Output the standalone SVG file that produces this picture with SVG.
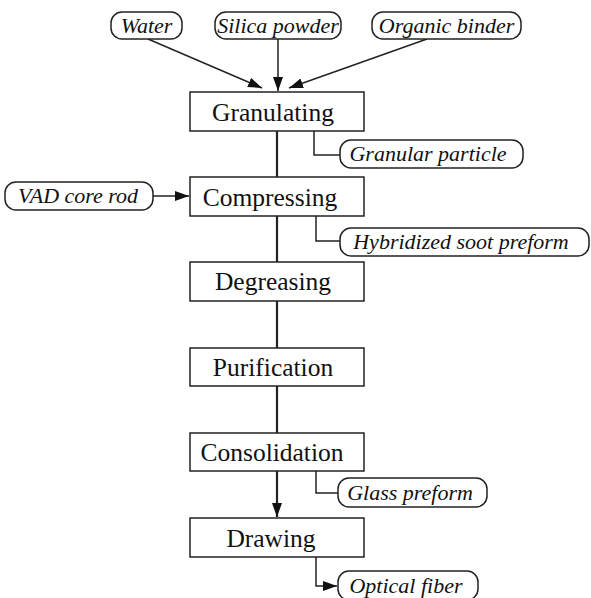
<svg xmlns="http://www.w3.org/2000/svg" width="591" height="598" viewBox="0 0 591 598">
<defs>
<style>
.box{fill:#fff;stroke:#222;stroke-width:1.5}
.pill{fill:#fff;stroke:#222;stroke-width:1.5}
.bt{font-family:"Liberation Serif","Times New Roman",serif;font-size:25.5px;fill:#111;text-anchor:middle}
.pt{font-family:"Liberation Serif","Times New Roman",serif;font-size:22px;font-style:italic;fill:#111;text-anchor:middle}
.ln{fill:none;stroke:#222;stroke-width:1.5}
.main{fill:none;stroke:#222;stroke-width:2.2}
</style>
<marker id="ah" markerUnits="userSpaceOnUse" markerWidth="16" markerHeight="12" refX="14" refY="5" orient="auto">
<path d="M0,0 L14,5 L0,10 Z" fill="#111"/>
</marker>
</defs>
<rect width="591" height="598" fill="#fff"/>
<g id="connectors">
<line class="ln" x1="148" y1="39" x2="262" y2="88" marker-end="url(#ah)"/>
<line class="ln" x1="278" y1="39" x2="278" y2="91" marker-end="url(#ah)"/>
<line class="ln" x1="427" y1="39" x2="289" y2="88" marker-end="url(#ah)"/>
<line class="main" x1="277" y1="131" x2="277" y2="177"/>
<line class="main" x1="277" y1="216" x2="277" y2="262"/>
<line class="main" x1="277" y1="301" x2="277" y2="348"/>
<line class="main" x1="277" y1="386" x2="277" y2="433"/>
<line class="main" x1="277" y1="471" x2="277" y2="517" marker-end="url(#ah)"/>
<line class="ln" x1="153" y1="196" x2="189" y2="196" marker-end="url(#ah)"/>
<polyline class="ln" points="314,131 314,155 340,155"/>
<polyline class="ln" points="316,216 316,241 340,241"/>
<polyline class="ln" points="316,471 316,493 338,493"/>
<polyline class="ln" points="316,557 316,586 337,586" marker-end="url(#ah)"/>
</g>
<g id="water"><rect class="pill" x="111" y="12" width="71" height="27" rx="11"/><text class="pt" x="146.5" y="33">Water</text></g>
<g id="silica"><rect class="pill" x="215" y="12" width="126" height="27" rx="11"/><text class="pt" x="278" y="33">Silica powder</text></g>
<g id="binder"><rect class="pill" x="372" y="12" width="149" height="27" rx="11"/><text class="pt" x="446.5" y="33">Organic binder</text></g>
<g id="granulating"><rect class="box" x="190" y="92" width="174" height="39"/><text class="bt" x="273" y="121">Granulating</text></g>
<g id="granular"><rect class="pill" x="340" y="140" width="183" height="28" rx="11"/><text class="pt" x="428" y="161">Granular particle</text></g>
<g id="vad"><rect class="pill" x="5" y="182" width="148" height="28" rx="11"/><text class="pt" x="78" y="203">VAD core rod</text></g>
<g id="compressing"><rect class="box" x="190" y="177" width="174" height="39"/><text class="bt" x="270" y="206">Compressing</text></g>
<g id="hybridized"><rect class="pill" x="340" y="228" width="249" height="28" rx="11"/><text class="pt" x="461" y="249">Hybridized soot preform</text></g>
<g id="degreasing"><rect class="box" x="190" y="262" width="174" height="39"/><text class="bt" x="273" y="290">Degreasing</text></g>
<g id="purification"><rect class="box" x="190" y="348" width="174" height="38"/><text class="bt" x="273" y="376">Purification</text></g>
<g id="consolidation"><rect class="box" x="190" y="433" width="174" height="38"/><text class="bt" x="272" y="461">Consolidation</text></g>
<g id="glass"><rect class="pill" x="338" y="478" width="149" height="29" rx="11"/><text class="pt" x="410" y="500">Glass preform</text></g>
<g id="drawing"><rect class="box" x="190" y="518" width="174" height="39"/><text class="bt" x="271" y="547">Drawing</text></g>
<g id="optical"><rect class="pill" x="338" y="571" width="140" height="29" rx="11"/><text class="pt" x="406" y="593">Optical fiber</text></g>
</svg>
